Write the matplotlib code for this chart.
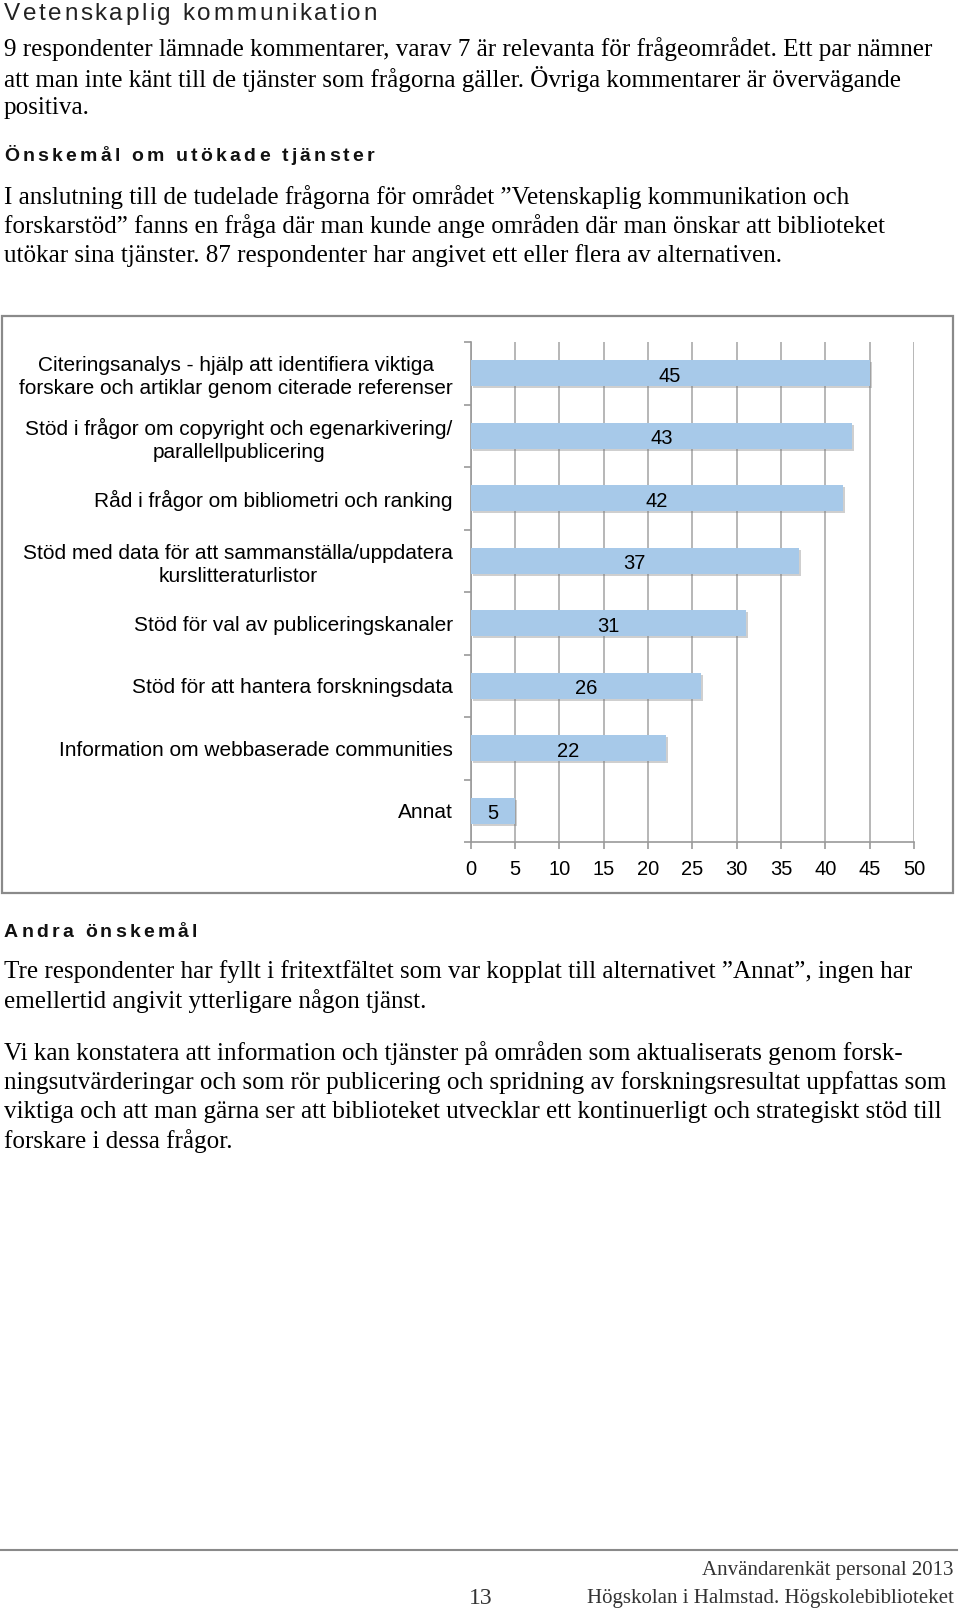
import matplotlib
matplotlib.use('Agg')
import matplotlib.pyplot as plt
import matplotlib.patheffects as pe
from matplotlib.patches import Rectangle
from matplotlib.font_manager import FontProperties, findfont, get_font
import numpy as np

# chart data
categories = [
    'Citeringsanalys - hjälp att identifiera viktiga\nforskare och artiklar genom citerade referenser',
    'Stöd i frågor om copyright och egenarkivering/\nparallellpublicering',
    'Råd i frågor om bibliometri och ranking',
    'Stöd med data för att sammanställa/uppdatera\nkurslitteraturlistor',
    'Stöd för val av publiceringskanaler',
    'Stöd för att hantera forskningsdata',
    'Information om webbaserade communities',
    'Annat',
]
values = [45, 43, 42, 37, 31, 26, 22, 5]
xticks = [0, 5, 10, 15, 20, 25, 30, 35, 40, 45, 50]

title = 'Vetenskaplig kommunikation'
para1 = ['9 respondenter lämnade kommentarer, varav 7 är relevanta för frågeområdet. Ett par nämner',
         'att man inte känt till de tjänster som frågorna gäller. Övriga kommentarer är övervägande',
         'positiva.']
head2 = 'Önskemål om utökade tjänster'
para2 = ['I anslutning till de tudelade frågorna för området \u201dVetenskaplig kommunikation och',
         'forskarstöd\u201d fanns en fråga där man kunde ange områden där man önskar att biblioteket',
         'utökar sina tjänster. 87 respondenter har angivet ett eller flera av alternativen.']
head3 = 'Andra önskemål'
para3 = ['Tre respondenter har fyllt i fritextfältet som var kopplat till alternativet \u201dAnnat\u201d, ingen har',
         'emellertid angivit ytterligare någon tjänst.']
para4 = ['Vi kan konstatera att information och tjänster på områden som aktualiserats genom forsk-',
         'ningsutvärderingar och som rör publicering och spridning av forskningsresultat uppfattas som',
         'viktiga och att man gärna ser att biblioteket utvecklar ett kontinuerligt och strategiskt stöd till',
         'forskare i dessa frågor.']
footer1 = 'Användarenkät personal 2013'
footer2 = 'Högskolan i Halmstad. Högskolebiblioteket'
page_no = '13'

W, H = 960, 1613
DPI = 100
fig = plt.figure(figsize=(W / DPI, H / DPI), dpi=DPI)
page = fig.add_axes([0, 0, 1, 1])
page.set_xlim(0, W)
page.set_ylim(H, 0)
page.axis('off')

SERIF = 'Liberation Serif'
SANS = 'Liberation Sans'


def spaced_text(x, y, s, spacing, family, size, weight='normal', color='black'):
    # draw a string char by char with extra letter spacing (px), using glyph advances
    font = get_font(findfont(FontProperties(family=family, weight=weight)))
    font.set_size(size, DPI)
    for ch in s:
        page.text(x, y, ch, va='baseline', ha='left', family=family,
                  fontsize=size, weight=weight, color=color)
        g = font.load_char(ord(ch))
        x += g.linearHoriAdvance / 65536 + spacing


def paragraph(lines, y0, step=29.5):
    for i, line in enumerate(lines):
        page.text(4, y0 + i * step, line, va='center', ha='left',
                  family=SERIF, fontsize=18.1, color='black')


spaced_text(4, 20, title, 2.55, SANS, 17.5, color='#222222')
paragraph(para1, 49)
spaced_text(4, 161, head2, 3.2, SANS, 14, weight='bold', color='#111111')
paragraph(para2, 197)
spaced_text(4, 937, head3, 3.2, SANS, 14, weight='bold', color='#111111')
paragraph(para3, 972)
paragraph(para4, 1053)

# chart frame
page.add_patch(Rectangle((2, 316), 951, 577, fill=False, edgecolor='#8a8a8a', lw=1.6))

# footer
page.plot([0, 957], [1550, 1550], color='#8a8a8a', lw=1.5)
page.text(954, 1571, footer1, ha='right', va='center', family=SERIF, fontsize=15, color='#333333')
page.text(954, 1599, footer2, ha='right', va='center', family=SERIF, fontsize=15, color='#333333')
page.text(481, 1599, page_no, ha='center', va='center', family=SERIF, fontsize=17, color='#333333')

# bar chart
left, right, top, bottom = 470.7, 914.0, 342.0, 842.0
ax = fig.add_axes([left / W, 1 - bottom / H, (right - left) / W, (bottom - top) / H])
ax.patch.set_alpha(0)
pos = np.arange(len(categories))
bars = ax.barh(pos, values, height=0.42, color='#a7c9e9', zorder=3)
for b in bars:
    b.set_path_effects([pe.SimplePatchShadow(offset=(1.5, -1.5), shadow_rgbFace='#777777', alpha=0.35),
                        pe.Normal()])
for p, v in zip(pos, values):
    ax.text(v / 2, p + 0.05, str(v), ha='center', va='center', family=SANS, fontsize=14.5, zorder=4)

ax.set_xlim(0, 50)
ax.set_ylim(len(categories) - 0.5, -0.5)
ax.set_xticks(xticks)
ax.set_xticklabels([str(x) for x in xticks], family=SANS, fontsize=14.5)
ax.set_yticks(pos)
ax.set_yticklabels(categories, family=SANS, fontsize=15, multialignment='center', linespacing=1.25)
ax.set_yticks(np.arange(len(categories) + 1) - 0.5, minor=True)
ax.tick_params(axis='y', which='major', length=0, pad=13)
ax.tick_params(axis='y', which='minor', length=5, color='#999999', width=1.2)
ax.tick_params(axis='x', length=5, color='#999999', width=1.2, pad=8)
ax.grid(axis='x', color='#aaaaaa', lw=1.2, zorder=0)
for s in ('top', 'right'):
    ax.spines[s].set_visible(False)
for s in ('left', 'bottom'):
    ax.spines[s].set_color('#999999')
    ax.spines[s].set_linewidth(1.2)

fig.savefig('out.png', dpi=DPI)
